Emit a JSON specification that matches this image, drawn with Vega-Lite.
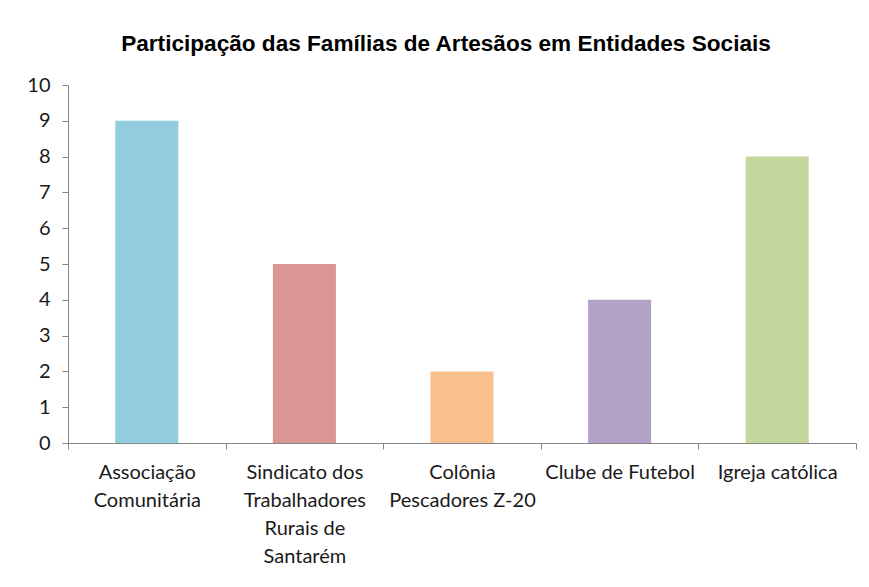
{
  "$schema": "https://vega.github.io/schema/vega-lite/v6.json",
  "autosize": "none",
  "width": 788,
  "height": 358,
  "padding": {"left": 68, "top": 85, "right": 13, "bottom": 144},
  "background": "white",
  "config": {"view": {"stroke": null}},
  "title": {
    "text": "Participação das Famílias  de Artesãos em Entidades Sociais",
    "font": "Liberation Sans",
    "fontSize": 22.6,
    "fontWeight": "bold",
    "color": "#000000",
    "anchor": "middle",
    "dx": -16,
    "offset": 19
  },
  "data": {
    "values": [
      {"entidade": "Associação|Comunitária", "familias": 9},
      {"entidade": "Sindicato dos|Trabalhadores|Rurais de|Santarém", "familias": 5},
      {"entidade": "Colônia|Pescadores Z-20", "familias": 2},
      {"entidade": "Clube de Futebol", "familias": 4},
      {"entidade": "Igreja católica", "familias": 8}
    ]
  },
  "mark": {"type": "bar", "width": {"band": 0.4}},
  "encoding": {
    "x": {
      "field": "entidade",
      "type": "nominal",
      "sort": null,
      "scale": {"paddingInner": 0, "paddingOuter": 0},
      "axis": {
        "title": null,
        "labelAngle": 0,
        "labelExpr": "isValid(datum.value) ? split(datum.value, '|') : ''",
        "labelFont": "Lato",
        "labelFontSize": 20,
        "labelColor": "#1a1a1a",
        "labelLineHeight": 28,
        "labelPadding": 13,
        "labelLimit": 300,
        "tickBand": "extent",
        "tickSize": 6,
        "tickColor": "#868686",
        "domainColor": "#868686",
        "labelBaseline": "top"
      }
    },
    "y": {
      "field": "familias",
      "type": "quantitative",
      "scale": {"domain": [0, 10], "nice": false},
      "axis": {
        "title": null,
        "values": [0, 1, 2, 3, 4, 5, 6, 7, 8, 9, 10],
        "grid": false,
        "labelFont": "Lato",
        "labelFontSize": 20,
        "labelColor": "#1a1a1a",
        "labelPadding": 12,
        "tickSize": 6,
        "tickColor": "#868686",
        "domainColor": "#868686"
      }
    },
    "color": {
      "field": "entidade",
      "type": "nominal",
      "sort": null,
      "scale": {"range": ["#93CDDD", "#D99694", "#FAC090", "#B3A2C7", "#C3D69B"]},
      "legend": null
    }
  }
}
